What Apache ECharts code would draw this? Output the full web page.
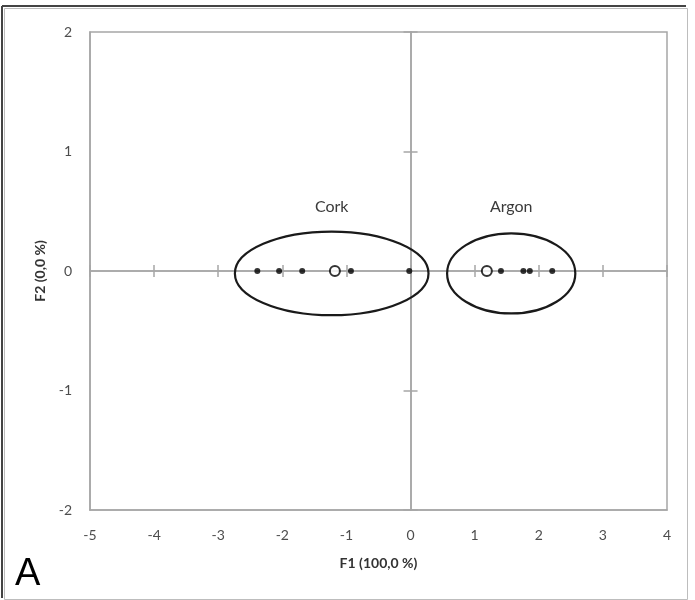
<!DOCTYPE html>
<html>
<head>
<meta charset="utf-8">
<script src="https://cdn.jsdelivr.net/npm/echarts@6/dist/echarts.min.js"></script>
<style>
  html, body { margin: 0; padding: 0; background: #fff; }
  #chart { width: 695px; height: 600px; }
</style>
</head>
<body>
<div id="chart"></div>
<script>
// observations on F1 (F2 is 0 for all)
const corkX = [-2.39, -2.05, -1.69, -0.93, -0.02]
const argonX = [1.41, 1.76, 1.86, 2.21]
// group centroids (open circles)
const centroidX = [-1.18, 1.19]
// confidence ellipses: centre, half-widths, label
const groupNames = ['Cork', 'Argon']
const ellipseCx = [-1.23, 1.57]
const ellipseCy = [-0.02, -0.02]
const ellipseRx = [1.51, 1.0]
const ellipseRy = [0.35, 0.335]
const labelY = [0.54, 0.54]

const xTicks = [-5, -4, -3, -2, -1, 0, 1, 2, 3, 4]
const yTicks = [-2, -1, 0, 1, 2]

const gray = '#a6a6a6'
const labelColor = '#4d4d4d'
const fontFam = 'Lato, "Open Sans", sans-serif'

const chart = echarts.init(document.getElementById('chart'))

function zeroAxisX(inside) {
  return {
    type: 'value', min: xTicks[0], max: xTicks[xTicks.length - 1], interval: 1,
    position: 'bottom',
    axisLine: { show: true, onZero: true, onZeroAxisIndex: 0, lineStyle: { color: gray, width: 1.5 } },
    axisTick: { show: true, inside: inside, length: 6, lineStyle: { color: gray, width: 1.5 } },
    axisLabel: { show: false },
    splitLine: { show: false }
  }
}
function zeroAxisY(inside) {
  return {
    type: 'value', min: yTicks[0], max: yTicks[yTicks.length - 1], interval: 1,
    position: 'left',
    axisLine: { show: true, onZero: true, onZeroAxisIndex: 0, lineStyle: { color: gray, width: 1.5 } },
    axisTick: { show: true, inside: inside, length: 7, lineStyle: { color: gray, width: 1.5 } },
    axisLabel: { show: false },
    splitLine: { show: false }
  }
}

const option = {
  backgroundColor: '#fff',
  animation: false,
  graphic: [
    {
      type: 'rect', left: 2, top: 6, z: 0,
      shape: { width: 683, height: 591 },
      style: { fill: 'none', stroke: '#bdbdbd', lineWidth: 1 }
    },
    { type: 'line', shape: { x1: 2, y1: 6, x2: 686, y2: 6 }, style: { stroke: '#444', lineWidth: 2 } },
    { type: 'line', shape: { x1: 2, y1: 6, x2: 2, y2: 598 }, style: { stroke: '#444', lineWidth: 2 } },
    {
      type: 'text', left: 15, top: 556,
      style: { text: 'A', fill: '#000', font: '38px "Liberation Sans", Arial, sans-serif' }
    }
  ],
  grid: {
    left: 90, right: 28, top: 32, bottom: 90,
    show: true, borderColor: gray, borderWidth: 1.5, backgroundColor: 'transparent'
  },
  xAxis: [
    {
      type: 'value', min: xTicks[0], max: xTicks[xTicks.length - 1], interval: 1,
      position: 'bottom',
      name: 'F1 (100,0 %)', nameLocation: 'middle', nameGap: 46,
      nameTextStyle: { color: '#333', fontWeight: 'bold', fontSize: 14, fontFamily: fontFam },
      axisLine: { show: true, onZero: false, lineStyle: { color: gray, width: 1.5 } },
      axisTick: { show: false },
      axisLabel: { color: labelColor, fontSize: 14, margin: 18, fontFamily: fontFam },
      splitLine: { show: false }
    },
    zeroAxisX(false),
    zeroAxisX(true)
  ],
  yAxis: [
    {
      type: 'value', min: yTicks[0], max: yTicks[yTicks.length - 1], interval: 1,
      position: 'left',
      name: 'F2 (0,0 %)', nameLocation: 'middle', nameGap: 42,
      nameTextStyle: { color: '#333', fontWeight: 'bold', fontSize: 14, fontFamily: fontFam },
      axisLine: { show: true, onZero: false, lineStyle: { color: gray, width: 1.5 } },
      axisTick: { show: false },
      axisLabel: { color: labelColor, fontSize: 14, margin: 18, fontFamily: fontFam },
      splitLine: { show: false }
    },
    zeroAxisY(false),
    zeroAxisY(true)
  ],
  series: [
    {
      type: 'custom',
      name: 'ellipses',
      z: 3,
      data: groupNames.map((n, i) => [ellipseCx[i], ellipseCy[i], ellipseRx[i], ellipseRy[i], labelY[i], n]),
      renderItem: function (params, api) {
        const c = api.coord([api.value(0), api.value(1)])
        const sz = api.size([api.value(2), api.value(3)])
        const lp = api.coord([api.value(0), api.value(4)])
        return {
          type: 'group',
          children: [
            {
              type: 'ellipse',
              shape: { cx: c[0], cy: c[1], rx: sz[0], ry: sz[1] },
              style: { fill: 'none', stroke: '#1a1a1a', lineWidth: 2.2 }
            },
            {
              type: 'text',
              x: lp[0], y: lp[1],
              style: {
                text: groupNames[params.dataIndex],
                fill: '#3a3a3a', font: '16px ' + fontFam,
                textAlign: 'center', textVerticalAlign: 'middle'
              }
            }
          ]
        }
      }
    },
    {
      type: 'scatter', name: 'Cork',
      symbol: 'circle', symbolSize: 6, z: 4,
      itemStyle: { color: '#000' },
      data: corkX.map(v => [v, 0])
    },
    {
      type: 'scatter', name: 'Argon',
      symbol: 'circle', symbolSize: 6, z: 4,
      itemStyle: { color: '#000' },
      data: argonX.map(v => [v, 0])
    },
    {
      type: 'scatter', name: 'Centroids',
      symbol: 'circle', symbolSize: 10, z: 5,
      itemStyle: { color: '#fff', borderColor: '#000', borderWidth: 2 },
      data: centroidX.map(v => [v, 0])
    }
  ]
}

chart.setOption(option)
</script>
</body>
</html>
